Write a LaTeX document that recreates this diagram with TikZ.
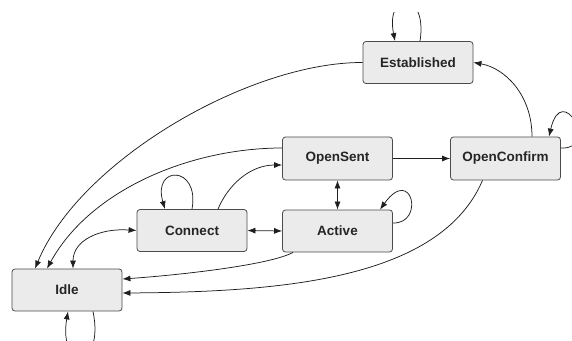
\documentclass[tikz,border=0pt]{standalone}
\usepackage{fontspec}
\setmainfont{Liberation Sans}
\usepackage{tikz}
\usetikzlibrary{arrows,arrows.meta}
\definecolor{fond}{RGB}{235,235,235}
\definecolor{bord}{RGB}{75,75,75}
\definecolor{trait}{RGB}{30,30,30}

\begin{document}
\begin{tikzpicture}[x=1pt,y=-1pt,
  boite/.style={draw=bord,fill=fond,rounded corners=3pt,minimum width=110pt,minimum height=42pt,line width=0.8pt,font=\fontsize{13.5}{16}\selectfont\bfseries,text=black!85},
  fleche/.style={->,>={Latex[length=8pt,width=6pt]},line width=0.75pt,draw=trait},
  dfleche/.style={<->,>={Latex[length=8pt,width=6pt]},line width=0.75pt,draw=trait}]
\useasboundingbox (0,0) rectangle (572,340);
\clip (0,12) rectangle (572,340);

%les etats
\node[boite] (established) at (418,62.5) {Established};
\node[boite,minimum height=43pt] (opensent) at (337.5,158.5) {OpenSent};
\node[boite,minimum height=43pt] (openconfirm) at (505.5,158.5) {OpenConfirm};
\node[boite] (connect) at (192,230.5) {Connect};
\node[boite] (active) at (337.5,231) {Active};
\node[boite] (idle) at (67,290) {Idle};

%retours vers Idle
\draw[fleche] (established.west) .. controls (250,62) and (80,160) .. ([xshift=-32pt]idle.north);
\draw[fleche] ([yshift=10.5pt]opensent.west) .. controls (190,148) and (90,190) .. ([xshift=-20pt]idle.north);
\draw[dfleche] (connect.west) .. controls (100,228) and (73,240) .. ([xshift=6pt]idle.north);
\draw[fleche] ([xshift=-44.5pt]active.south) .. controls (270,265) and (180,275) .. ([yshift=11pt]idle.east);
\draw[fleche] ([xshift=-23pt]openconfirm.south) .. controls (440,280) and (280,292) .. ([yshift=-3pt]idle.east);

%entre les etats
\draw[fleche] ([xshift=26pt]connect.north) .. controls (228,185) and (250,165) .. ([yshift=-6.5pt]opensent.west);
\draw[dfleche] (connect.east) -- (active.west);
\draw[dfleche] (opensent.south) -- (active.north);
\draw[fleche] (opensent.east) -- (openconfirm.west);
\draw[fleche] ([xshift=26.5pt]openconfirm.north) .. controls (532,95) and (505,68) .. (established.east);

%les boucles
\draw[fleche] (connect.north) .. controls (200,165) and (152,165) .. ([xshift=-27pt]connect.north);
\draw[fleche] ([yshift=8pt]active.east) .. controls (425,224) and (412,165) .. ([xshift=42.5pt]active.north);
\draw[fleche] ([xshift=2pt]established.north) .. controls (428,-10) and (385,-10) .. ([xshift=-23pt]established.north);
\draw[fleche] ([xshift=26pt]idle.south) .. controls (105,370) and (58,370) .. ([xshift=1pt]idle.south);
\draw[fleche] ([yshift=10.5pt]openconfirm.east) .. controls (600,150) and (562,80) .. ([xshift=43.5pt]openconfirm.north);
\end{tikzpicture}
\end{document}
